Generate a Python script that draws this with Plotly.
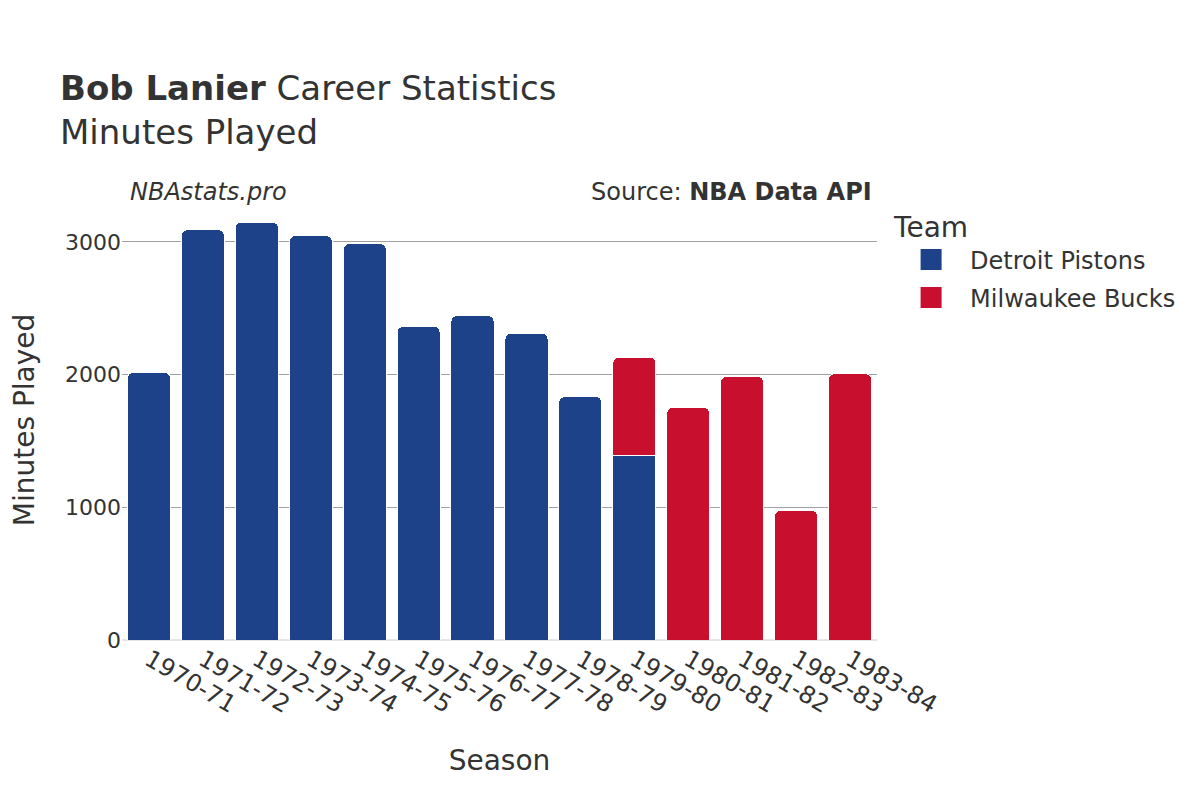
import plotly.graph_objects as go

seasons = ["1970-71", "1971-72", "1972-73", "1973-74", "1974-75", "1975-76", "1976-77",
           "1977-78", "1978-79", "1979-80", "1980-81", "1981-82", "1982-83", "1983-84"]

det_seasons = ["1970-71", "1971-72", "1972-73", "1973-74", "1974-75", "1975-76", "1976-77",
               "1977-78", "1978-79", "1979-80"]
det_minutes = [2017, 3092, 3150, 3047, 2987, 2363, 2446, 2311, 1835, 1392]

mil_seasons = ["1979-80", "1980-81", "1981-82", "1982-83", "1983-84"]
mil_minutes = [739, 1753, 1986, 978, 2007]

teams = ["Detroit Pistons", "Milwaukee Bucks"]
colors = ["#1D428A", "#C8102E"]

FONT = "DejaVu Sans"

fig = go.Figure()
fig.add_trace(go.Bar(x=det_seasons, y=det_minutes, name=teams[0], showlegend=False,
                     marker=dict(color=colors[0], line=dict(color="white", width=1), cornerradius=6)))
fig.add_trace(go.Bar(x=mil_seasons, y=mil_minutes, name=teams[1], showlegend=False,
                     marker=dict(color=colors[1], line=dict(color="white", width=1), cornerradius=6)))
for t, c in zip(teams, colors):
    fig.add_trace(go.Scatter(x=[None], y=[None], mode="markers", name=t, legendgroup=t,
                             marker=dict(symbol="square", size=16, color=c,
                                         line=dict(color=c, width=5))))

fig.update_layout(
    barmode="stack",
    bargap=0.2,
    width=1200, height=800,
    margin=dict(l=114, r=331, t=192, b=168),
    paper_bgcolor="white", plot_bgcolor="white",
    font=dict(family=FONT, color="#333333", size=22),
    title=dict(text="<b>Bob Lanier</b> Career Statistics<br>Minutes Played",
               x=52 / 1200, xanchor="left", y=0.885, yanchor="top",
               font=dict(size=34, family=FONT, color="#333333")),
    legend=dict(title=dict(text="Team", font=dict(size=28)), font=dict(size=24),
                traceorder="grouped", tracegroupgap=4, itemsizing="trace", itemwidth=68,
                x=1.02, y=0.998, xanchor="left", yanchor="top"),
    xaxis=dict(title=dict(text="Season", font=dict(size=28), standoff=32), tickangle=30,
               automargin=False,
               categoryorder="array", categoryarray=seasons, tickfont=dict(size=24)),
    yaxis=dict(title=dict(text="Minutes Played", font=dict(size=28), standoff=42),
               automargin=False, gridcolor="#A0A0A0",
               zeroline=True, zerolinecolor="#E5E5E5", zerolinewidth=2,
               tickfont=dict(size=22), tickvals=[0, 1000, 2000, 3000]),
    annotations=[
        dict(text="<i>NBAstats.pro</i>", xref="paper", yref="paper", x=0.008, y=1.0,
             xanchor="left", yanchor="bottom", yshift=-8, showarrow=False, font=dict(size=24)),
        dict(text="Source: <b>NBA Data API</b>", xref="paper", yref="paper", x=0.996, y=1.0,
             xanchor="right", yanchor="bottom", yshift=-8, showarrow=False, font=dict(size=24)),
    ],
)

fig.write_html("out.html")
